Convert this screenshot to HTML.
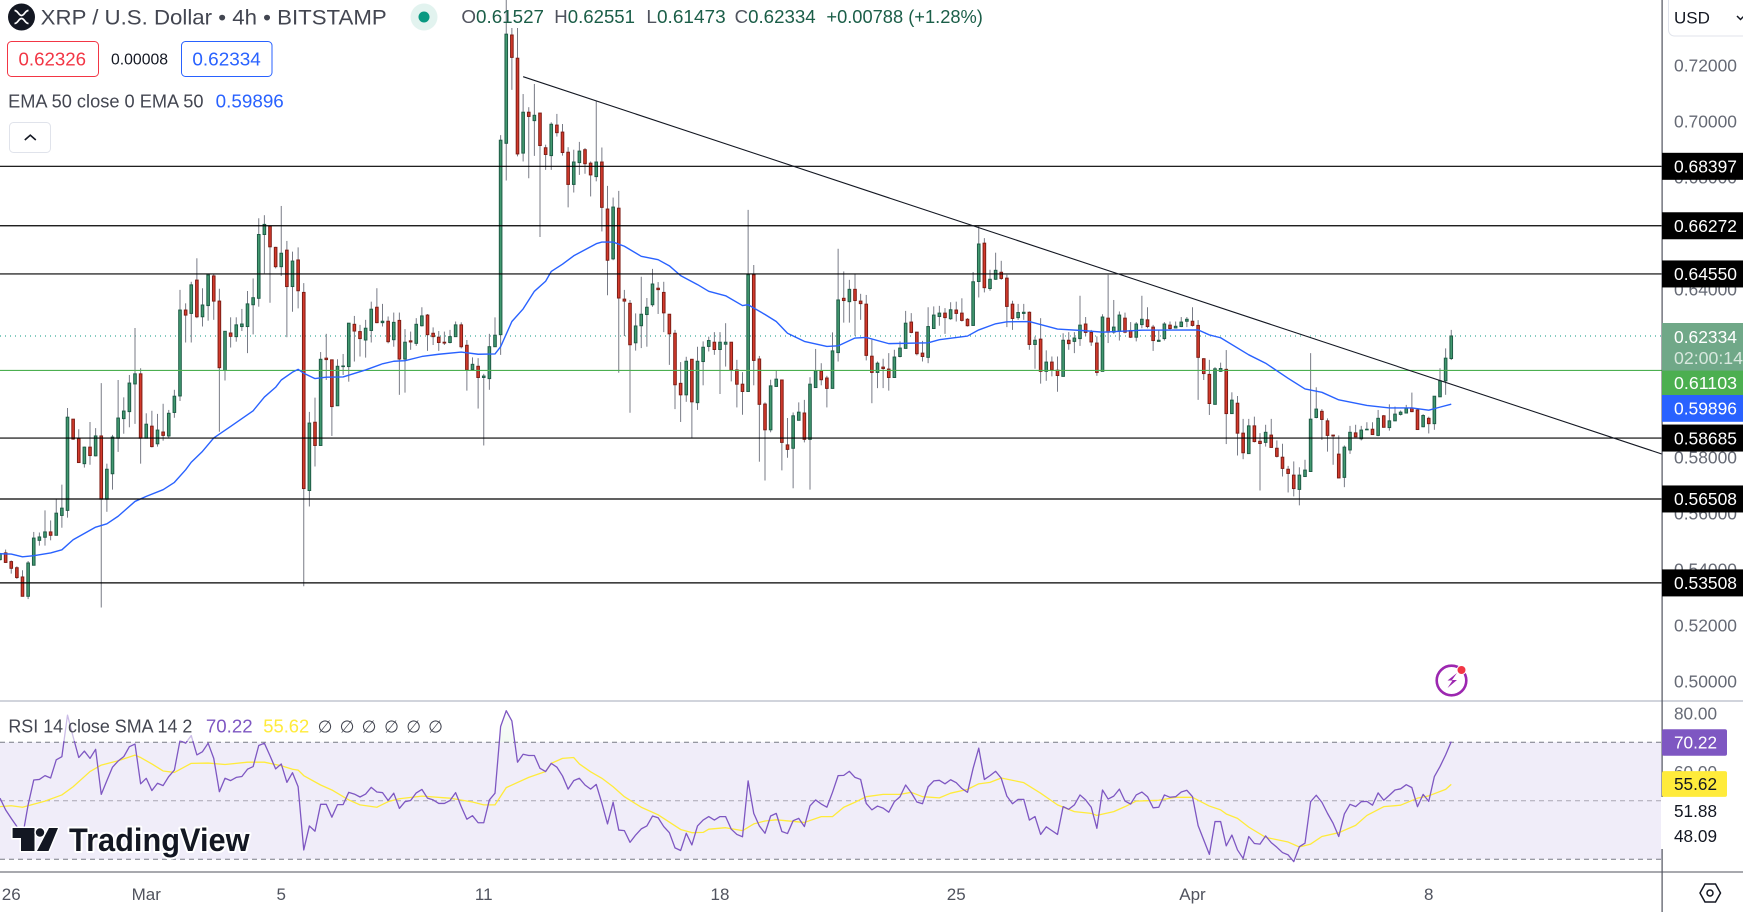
<!DOCTYPE html>
<html lang="en">
<head>
<meta charset="utf-8">
<title>XRP / U.S. Dollar 4h chart</title>
<style>
html,body{margin:0;padding:0;background:#fff;width:1743px;height:912px;overflow:hidden}
svg{display:block;font-family:"Liberation Sans",sans-serif}
</style>
</head>
<body>
<svg id="chart" xmlns="http://www.w3.org/2000/svg" width="1743" height="912" viewBox="0 0 1743 912">
  <defs>
    <clipPath id="mainClip"><rect x="0" y="0" width="1662" height="700"/></clipPath>
    <clipPath id="rsiClip"><rect x="0" y="702" width="1662" height="170"/></clipPath>
    <clipPath id="obClip"><rect x="0" y="702" width="1662" height="40.3"/></clipPath>
    <linearGradient id="obGrad" x1="0" y1="0" x2="0" y2="1"><stop offset="0" stop-color="#4caf50" stop-opacity=".02"/><stop offset="1" stop-color="#4caf50" stop-opacity=".28"/></linearGradient>
  </defs>
  <rect x="0" y="0" width="1743" height="912" fill="#ffffff"/>
  <g id="mainPane" clip-path="url(#mainClip)"></g>
  <rect x="0" y="742.3" width="1662" height="117" fill="#f0edf9"/>
  <g id="rsiPane" clip-path="url(#rsiClip)"></g>
  <rect x="0" y="700" width="1743" height="2" fill="#d1d4dc"/>
  <rect x="0" y="871.5" width="1743" height="1" fill="#50535e"/>
  <g id="priceTicks"></g>
  <rect x="1661.5" y="0" width="1.2" height="912" fill="#50535e"/>
  <g id="priceLabels"></g>
  <g id="timeLabels"></g>

  <!-- Header -->
  <g>
    <circle cx="21.5" cy="17" r="13.5" fill="#131722"/>
    <path d="M14.5 10.5c3.5 0 4 5 7 5s3.500-5 7-5M14.500 23.500c3.500 0 4-5 7-5s3.500 5 7 5" fill="none" stroke="#fff" stroke-width="1.700"/>
  </g>
  <text x="40.700" y="24.500" font-size="21" fill="#434651" textLength="346" lengthAdjust="spacingAndGlyphs">XRP / U.S. Dollar • 4h • BITSTAMP</text>
  <circle cx="424" cy="17" r="13.500" fill="#e2f3ef"/>
  <circle cx="424" cy="17" r="5.500" fill="#089981"/>
  <text x="461.400" y="23" font-size="18" fill="#1b5e48" textLength="82.600" lengthAdjust="spacingAndGlyphs"><tspan fill="#50535e">O</tspan>0.61527</text>
  <text x="554.300" y="23" font-size="18" fill="#1b5e48" textLength="80.700" lengthAdjust="spacingAndGlyphs"><tspan fill="#50535e">H</tspan>0.62551</text>
  <text x="646.400" y="23" font-size="18" fill="#1b5e48" textLength="79.300" lengthAdjust="spacingAndGlyphs"><tspan fill="#50535e">L</tspan>0.61473</text>
  <text x="734.600" y="23" font-size="18" fill="#1b5e48" textLength="81.100" lengthAdjust="spacingAndGlyphs"><tspan fill="#50535e">C</tspan>0.62334</text>
  <text x="826.400" y="23" font-size="18" fill="#1b5e48" textLength="156.500" lengthAdjust="spacingAndGlyphs">+0.00788 (+1.28%)</text>

  <rect x="7.500" y="41.500" width="91" height="35" rx="4" fill="#fff" stroke="#f23645" stroke-width="1"/>
  <text x="18.500" y="65.300" font-size="18.500" fill="#f23645" textLength="67.500" lengthAdjust="spacingAndGlyphs">0.62326</text>
  <text x="111" y="64.500" font-size="15.500" fill="#131722" textLength="57" lengthAdjust="spacingAndGlyphs">0.00008</text>
  <rect x="181.500" y="41.500" width="90.500" height="35" rx="4" fill="#fff" stroke="#2962ff" stroke-width="1"/>
  <text x="192.400" y="65.300" font-size="18.500" fill="#2962ff" textLength="68.400" lengthAdjust="spacingAndGlyphs">0.62334</text>

  <text x="8.100" y="107.500" font-size="18" fill="#434651" textLength="195.400" lengthAdjust="spacingAndGlyphs">EMA 50 close 0 EMA 50</text>
  <text x="215.700" y="107.500" font-size="18" fill="#2962ff" textLength="68.100" lengthAdjust="spacingAndGlyphs">0.59896</text>
  <rect x="9.500" y="122.500" width="41" height="30" rx="4" fill="#fff" stroke="#e0e3eb" stroke-width="1"/>
  <path d="M24.800 140l5.500-4.800 5.500 4.800" fill="none" stroke="#131722" stroke-width="1.600"/>

  <!-- USD -->
  <rect x="1668.500" y="-6" width="90" height="42" rx="6" fill="#fff" stroke="#e0e3eb" stroke-width="1"/>
  <text x="1674" y="23.500" font-size="17" fill="#131722">USD</text>
  <path d="M1737 16l3.500 3.500 3.500-3.500" fill="none" stroke="#131722" stroke-width="1.500"/>

  <!-- RSI legend -->
  <rect x="4" y="714" width="192" height="27" fill="#ffffff" fill-opacity=".6"/>
  <text x="8.400" y="732.500" font-size="18" fill="#434651" textLength="184" lengthAdjust="spacingAndGlyphs">RSI 14 close SMA 14 2</text>
  <text x="205.900" y="732.500" font-size="18" fill="#7e57c2" textLength="46.700" lengthAdjust="spacingAndGlyphs">70.22</text>
  <text x="263.300" y="732.500" font-size="18" fill="#ffeb3b" textLength="45.900" lengthAdjust="spacingAndGlyphs">55.62</text>
  <text font-size="17" fill="#434651" text-anchor="middle" y="732.500"><tspan x="325">∅</tspan><tspan x="347">∅</tspan><tspan x="369">∅</tspan><tspan x="391.500">∅</tspan><tspan x="413.700">∅</tspan><tspan x="435.500">∅</tspan></text>

  <!-- TradingView logo -->
  <g>
    <g fill="#131722" stroke="#fff" stroke-width="3" paint-order="stroke" stroke-linejoin="round">
      <path d="M12.600 828H34.500V851H21V838H12.600Z"/>
      <circle cx="40" cy="832.500" r="4.200"/>
      <path d="M49 828H58L48.500 851H37Z"/>
    </g>
    <text x="69" y="851" font-size="32" font-weight="700" fill="#131722" stroke="#fff" stroke-width="4" paint-order="stroke" stroke-linejoin="round" textLength="180.500" lengthAdjust="spacingAndGlyphs">TradingView</text>
  </g>

  <!-- Lightning icon -->
  <g>
    <circle cx="1451.500" cy="680.500" r="14.800" fill="#fff" stroke="#9c27b0" stroke-width="2.600"/>
    <path d="M1457 673l-9.500 7.500h5l-5 7.500 9.500-8h-5z" fill="#9c27b0"/>
    <circle cx="1461.500" cy="670" r="4.500" fill="#f23645" stroke="#fff" stroke-width="1"/>
  </g>

  <!-- settings -->
  <g fill="none" stroke="#131722" stroke-width="1.500">
    <path d="M1705 884h10.500l5 9-5 9H1705l-5-9z"/>
    <circle cx="1710" cy="893" r="3"/>
  </g>

  <g id="rsiLabels"></g>
</svg>

<script>
const opens=[.5434,.5458,.5427,.5405,.5372,.5303,.5414,.5503,.5514,.5533,
.5521,.5592,.5610,.5936,.5867,.5777,.5836,.5805,.5876,.5650,
.5741,.5868,.5938,.5963,.6062,.6098,.5868,.5911,.5848,.5890,
.5876,.5960,.6019,.6326,.6314,.6433,.6302,.6342,.6448,.6358,
.6110,.6244,.6231,.6267,.6267,.6345,.6368,.6596,.6626,.6550,
.6481,.6540,.6410,.6505,.6389,.5681,.5925,.5842,.6154,.6148,
.5984,.6124,.6124,.6275,.6249,.6219,.6253,.6336,.6281,.6286,
.6220,.6289,.6151,.6216,.6207,.6270,.6308,.6243,.6229,.6211,
.6210,.6231,.6273,.6200,.6113,.6125,.6085,.6081,.6195,.6238,
.6922,.7309,.7226,.6887,.7033,.7003,.7030,.6906,.6878,.6987,
.6962,.6890,.6775,.6853,.6899,.6851,.6803,.6855,.6687,.6509,
.6690,.6365,.6350,.6209,.6270,.6310,.6345,.6404,.6389,.6311,
.6243,.6064,.6023,.6150,.5995,.6142,.6196,.6211,.6185,.6204,
.6211,.6112,.6061,.6035,.6452,.6151,.5990,.5898,.6053,.6076,
.5844,.5832,.5932,.5958,.5864,.6049,.6108,.6083,.6046,.6174,
.6368,.6356,.6400,.6358,.6347,.6161,.6103,.6122,.6115,.6085,
.6160,.6189,.6283,.6247,.6172,.6157,.6260,.6303,.6315,.6295,
.6326,.6315,.6293,.6271,.6428,.6565,.6403,.6436,.6461,.6440,
.6347,.6299,.6314,.6318,.6203,.6222,.6107,.6140,.6111,.6089,
.6218,.6214,.6224,.6276,.6246,.6208,.6107,.6297,.6247,.6250,
.6297,.6253,.6229,.6274,.6291,.6265,.6214,.6224,.6272,.6262,
.6267,.6286,.6286,.6271,.6152,.6096,.5989,.6107,.6114,.5956,
.5993,.5886,.5813,.5912,.5857,.5853,.5879,.5832,.5800,.5757,
.5736,.5685,.5731,.5749,.5942,.5964,.5930,.5879,.5811,.5728,
.5826,.5887,.5866,.5898,.5900,.5878,.5948,.5906,.5930,.5953,
.5958,.5976,.5969,.5909,.5939,.5920,.6016,.6073,.61527];
const highs=[.5458,.5470,.5431,.5410,.5396,.5429,.5533,.5531,.5610,.5574,
.5652,.5702,.5976,.5936,.5900,.5838,.5926,.5904,.6065,.5777,
.5880,.6076,.6014,.6094,.6262,.6118,.5957,.5966,.5955,.5991,
.5969,.6041,.6398,.6350,.6427,.6511,.6404,.6451,.6454,.6402,
.6250,.6300,.6300,.6330,.6394,.6439,.6654,.6665,.6626,.6552,
.6698,.6573,.6535,.6550,.6422,.5962,.6013,.6176,.6241,.6148,
.6150,.6169,.6279,.6305,.6273,.6291,.6356,.6404,.6348,.6303,
.6317,.6317,.6258,.6249,.6297,.6336,.6312,.6264,.6251,.6249,
.6255,.6285,.6282,.6219,.6157,.6154,.6098,.6241,.6300,.6951,
.7450,.7334,.7334,.7098,.7051,.7134,.7030,.6917,.6997,.7027,
.6991,.6908,.6899,.6927,.6905,.6857,.7074,.6907,.6770,.6728,
.6752,.6398,.6362,.6314,.6445,.6369,.6473,.6426,.6427,.6312,
.6255,.6140,.6159,.6151,.6195,.6214,.6231,.6247,.6247,.6279,
.6211,.6148,.6104,.6684,.6487,.6162,.5996,.6077,.6110,.6076,
.5940,.5960,.5996,.6005,.6086,.6187,.6136,.6091,.6246,.6545,
.6464,.6434,.6454,.6384,.6380,.6220,.6142,.6152,.6172,.6184,
.6214,.6323,.6315,.6247,.6216,.6336,.6339,.6341,.6333,.6354,
.6356,.6368,.6297,.6462,.6628,.6583,.6470,.6531,.6502,.6452,
.6359,.6348,.6348,.6321,.6231,.6297,.6182,.6160,.6160,.6243,
.6247,.6247,.6377,.6301,.6255,.6232,.6311,.6452,.6362,.6321,
.6317,.6283,.6283,.6377,.6336,.6273,.6255,.6283,.6285,.6285,
.6301,.6301,.6336,.6290,.6154,.6148,.6122,.6138,.6183,.6032,
.6019,.5937,.5937,.5945,.5886,.5916,.5937,.5860,.5848,.5769,
.5785,.5764,.5791,.6172,.6050,.5972,.5939,.5880,.5878,.5842,
.5912,.5916,.5912,.5925,.5925,.5969,.5951,.5989,.5981,.5967,
.5987,.6031,.5975,.5954,.5945,.6018,.6118,.6189,.62551];
const lows=[.5431,.5422,.5384,.5365,.5303,.5293,.5414,.5484,.5484,.5503,
.5521,.5548,.5584,.5862,.5781,.5763,.5773,.5803,.5263,.5605,
.5684,.5819,.5884,.5907,.5919,.5777,.5868,.5835,.5838,.5859,
.5868,.5941,.6001,.6210,.6210,.6297,.6267,.6288,.6291,.5891,
.6074,.6192,.6213,.6251,.6172,.6239,.6338,.6457,.6352,.6475,
.6448,.6229,.6320,.6332,.5339,.5624,.5767,.5842,.6076,.5876,
.5984,.6094,.6070,.6142,.6160,.6156,.6210,.6279,.6267,.6207,
.6195,.6023,.6031,.6184,.6198,.6267,.6180,.6201,.6180,.6201,
.6207,.6231,.6189,.6038,.6110,.5974,.5842,.6041,.6195,.6166,
.6789,.7113,.6875,.6857,.6797,.6877,.6587,.6827,.6827,.6946,
.6878,.6693,.6746,.6809,.6813,.6732,.6786,.6607,.6379,.6504,
.6102,.6233,.5959,.6181,.6190,.6195,.6338,.6312,.6247,.6130,
.5972,.5926,.5998,.5867,.5969,.6057,.6178,.6166,.6026,.6124,
.6071,.5978,.5952,.6035,.6057,.5784,.5717,.5889,.6053,.5753,
.5798,.5689,.5932,.5853,.5684,.6049,.6057,.5978,.6046,.6142,
.6281,.6281,.6234,.6291,.6146,.5993,.6047,.6047,.6038,.6085,
.6157,.6189,.6243,.6164,.6142,.6136,.6260,.6270,.6241,.6291,
.6285,.6285,.6267,.6271,.6371,.6389,.6395,.6434,.6434,.6265,
.6255,.6291,.6291,.6184,.6116,.6063,.6073,.6089,.6034,.6089,
.6184,.6172,.6198,.6232,.6198,.6091,.6107,.6208,.6241,.6217,
.6243,.6226,.6214,.6261,.6261,.6180,.6214,.6217,.6255,.6261,
.6265,.6265,.6267,.6005,.6076,.5951,.5989,.6105,.5847,.5956,
.5806,.5793,.5813,.5853,.5681,.5838,.5835,.5799,.5731,.5674,
.5660,.5628,.5731,.5749,.5939,.5862,.5820,.5773,.5725,.5693,
.5812,.5872,.5860,.5898,.5880,.5875,.5906,.5895,.5930,.5949,
.5958,.5961,.5898,.5907,.5885,.5898,.6016,.6023,.61473];
const closes=[.5455,.5424,.5403,.5370,.5303,.5422,.5511,.5515,.5533,.5521,
.5600,.5618,.5943,.5865,.5781,.5836,.5806,.5876,.5650,.5757,
.5872,.5940,.5965,.6065,.6098,.5868,.5918,.5838,.5897,.5878,
.5957,.6018,.6326,.6308,.6416,.6302,.6344,.6451,.6358,.6120,
.6250,.6232,.6273,.6276,.6348,.6370,.6596,.6632,.6552,.6481,
.6529,.6410,.6501,.6395,.5688,.5922,.5842,.6150,.6149,.5981,
.6125,.6126,.6279,.6251,.6224,.6261,.6329,.6281,.6286,.6213,
.6282,.6151,.6211,.6212,.6275,.6305,.6238,.6231,.6210,.6208,
.6231,.6273,.6195,.6112,.6132,.6085,.6090,.6195,.6236,.6933,
.7312,.7229,.6884,.7033,.7018,.7022,.6914,.6882,.6990,.6960,
.6889,.6775,.6855,.6894,.6849,.6809,.6855,.6693,.6504,.6694,
.6369,.6358,.6202,.6269,.6311,.6336,.6419,.6399,.6316,.6241,
.6059,.6023,.6143,.5998,.6143,.6193,.6217,.6185,.6211,.6211,
.6112,.6061,.6035,.6452,.6146,.5989,.5898,.6055,.6079,.5853,
.5828,.5948,.5961,.5864,.6061,.6109,.6077,.6046,.6180,.6362,
.6360,.6400,.6360,.6349,.6164,.6103,.6136,.6117,.6085,.6158,
.6190,.6279,.6246,.6170,.6160,.6267,.6308,.6315,.6299,.6327,
.6314,.6289,.6270,.6427,.6562,.6406,.6436,.6468,.6439,.6339,
.6296,.6317,.6318,.6203,.6218,.6107,.6140,.6112,.6092,.6218,
.6206,.6226,.6272,.6246,.6212,.6103,.6301,.6247,.6265,.6308,
.6247,.6229,.6276,.6293,.6267,.6217,.6218,.6276,.6260,.6268,
.6283,.6293,.6271,.6157,.6099,.5992,.6116,.6117,.5956,.6004,
.5886,.5816,.5912,.5856,.5849,.5889,.5835,.5803,.5760,.5742,
.5688,.5736,.5754,.5936,.5972,.5935,.5878,.5876,.5726,.5836,
.5889,.5873,.5897,.5900,.5881,.5939,.5907,.5930,.5954,.5961,
.5975,.5963,.5899,.5949,.5920,.6018,.6073,.6154,.62334];

const emaBars=[0,2,4,6,9,11,13,17,19,21,24,26,29,31,33,34,36,38,41,45,47,49,50,52,53,54,56,58,61,65,68,70,72,75,78,82,85,88,89,91,93,95,97,98,100,102,106,107,109,111,114,117,119,121,124,126,129,132,133,136,138,140,143,147,149,152,154,158,165,167,172,174,177,179,183,188,193,196,203,213,215,217,222,225,229,232,235,238,243,247,251,254,256,258];
const emaValues=[.5455,.5454,.5444,.5448,.5458,.5469,.5505,.5550,.5562,.5589,.5642,.5660,.5684,.5710,.5755,.5782,.5821,.5869,.5910,.5966,.6015,.6050,.6076,.6104,.6114,.6100,.6081,.6086,.6087,.6112,.6134,.6143,.6145,.6160,.6168,.6176,.6168,.6169,.6195,.6285,.6330,.6393,.6429,.6464,.6490,.6520,.6563,.6569,.6569,.6554,.6518,.6506,.6484,.6449,.6417,.6393,.6377,.6342,.6345,.6310,.6285,.6243,.6214,.6196,.6198,.6226,.6228,.6206,.6209,.6220,.6233,.6255,.6277,.6284,.6285,.6258,.6252,.6247,.6254,.6255,.6237,.6227,.6166,.6136,.6082,.6044,.6032,.6005,.5985,.5976,.5976,.5968,.5979,.59896];

const rsiValues=[50.9,46.9,44.0,41.2,37.7,48.6,57.1,57.3,58.6,57.8,
64.0,65.1,79.3,71.9,64.8,67.0,64.5,67.6,52.2,56.9,
61.5,63.6,65.1,68.5,69.4,55.8,57.7,53.5,56.0,55.2,
58.3,60.5,70.6,69.7,72.3,65.7,66.8,69.7,64.5,53.1,
57.7,56.9,58.0,58.3,60.8,61.7,68.9,69.7,65.4,60.9,
62.6,56.3,59.6,54.8,33.2,41.4,39.6,48.8,48.8,44.4,
48.7,48.7,52.9,52.3,51.3,52.3,54.6,53.0,52.8,50.1,
52.6,47.4,49.7,50.1,52.7,53.9,50.9,50.3,49.1,49.1,
50.1,52.8,48.0,43.7,44.9,42.5,42.5,50.3,52.6,75.4,
80.8,77.3,63.2,65.9,65.5,65.5,61.1,60.0,62.8,61.5,
58.5,54.0,56.9,57.7,55.4,54.0,55.6,49.2,42.1,49.5,
40.0,39.8,35.8,38.3,40.4,41.4,44.8,44.2,41.2,39.1,
33.9,33.0,38.9,34.9,41.4,43.4,44.6,43.4,44.6,44.6,
40.3,38.5,37.7,56.8,45.7,41.4,38.9,44.8,45.7,39.5,
38.8,43.2,44.0,41.2,48.3,50.3,48.9,47.8,52.9,58.6,
58.7,60.1,58.0,57.3,49.1,46.9,48.2,47.5,46.1,49.7,
51.4,55.4,52.8,49.6,49.0,54.8,56.8,57.0,55.8,57.2,
56.2,54.2,52.9,61.1,68.0,57.3,58.6,60.1,57.7,51.6,
49.0,50.5,50.5,43.4,44.6,38.5,41.1,39.8,38.5,48.0,
47.1,48.6,52.0,50.3,47.8,40.6,53.7,50.6,51.6,54.0,
49.9,48.9,52.0,53.0,51.4,47.6,47.8,52.0,51.2,51.4,
53.0,53.6,51.4,41.5,36.6,31.7,42.9,42.9,34.6,38.3,
33.2,30.3,37.8,35.4,35.2,38.0,35.7,34.1,32.3,31.5,
29.2,34.3,35.5,49.7,51.9,49.5,45.7,42.3,37.8,45.5,
48.8,48.0,49.7,49.8,48.5,52.7,50.2,51.9,53.7,54.1,
55.5,54.5,48.0,52.2,49.8,58.3,61.7,65.7,70.22];
const smaBars=[0,2,4,8,11,13,16,18,21,24,25,27,29,31,34,37,40,44,47,50,52,53,54,57,59,62,64,67,69,71,75,80,84,86,88,90,94,97,98,100,102,103,105,107,109,111,114,117,121,123,125,126,129,132,134,136,138,143,146,148,150,152,154,157,160,162,164,167,169,172,174,176,178,182,185,188,191,194,195,198,200,202,206,209,212,215,217,218,220,222,225,229,231,233,235,238,241,243,246,249,252,254,257,258];
const smaValues=[48.0,48.3,47.8,49.9,52.0,54.8,60.0,62.2,63.7,65.6,64.8,62.6,60.2,59.7,62.8,62.9,62.4,63.2,63.2,62.0,60.8,60.5,58.6,55.4,53.7,50.3,48.6,47.8,49.7,50.7,51.6,50.9,49.6,48.6,48.6,54.5,58.0,60.0,62.8,64.5,64.8,62.6,59.9,57.7,54.8,51.4,47.8,45.2,40.2,39.1,39.2,40.3,40.8,39.8,42.1,43.1,43.5,42.6,44.6,44.6,47.8,49.5,51.4,52.2,52.2,52.9,51.4,51.0,52.6,53.9,55.8,56.3,57.8,56.2,52.6,48.6,46.3,45.7,45.0,46.3,48.0,49.9,50.2,51.2,51.2,48.2,46.9,45.5,44.0,41.0,37.5,35.9,34.2,35.2,37.8,39.1,41.6,45.0,48.0,48.5,50.9,51.7,53.9,55.62];

const levelValues=[.68397,.66272,.64550,.58685,.56508,.53508];
const lastPrice=.62334;
const greenLevel=.61103;
const emaLast=.59896;
const trendBars=[93,295.5];
const trendPrices=[.7160,.5811];
const priceTickValues=[.72,.70,.68,.64,.58,.56,.54,.52,.50];
const rsiGuideValues=[70,50,30];
const rsiTickValues=[80,60];
const timeTickBars=[2,26,50,86,128,170,212,254];
const timeTickLabels=['26','Mar','5','11','18','25','Apr','8'];
const countdownLabel='02:00:14';
const rsiSmaLast=55.62;
const rsiLast=70.22;
const rsiExtraLabels=[51.88,48.09];

const SVGNS='http://www.w3.org/2000/svg';
const barStep=5.625;
function xOf(bar){return bar*barStep;}
function priceY(p){return 65.5+(0.72-p)*2798;}
function rsiY(v){return 742.3+(70-v)*2.925;}
function el(tag,attrs,parent){
  const n=document.createElementNS(SVGNS,tag);
  for(const k in attrs)n.setAttribute(k,attrs[k]);
  parent.appendChild(n);
  return n;
}
const main=document.getElementById('mainPane');
const rsi=document.getElementById('rsiPane');
const ticks=document.getElementById('priceTicks');
const labels=document.getElementById('priceLabels');
const rsiL=document.getElementById('rsiLabels');
const timeL=document.getElementById('timeLabels');

// last-price dotted line
const dotted=el('line',{x1:0,x2:1662,y1:priceY(lastPrice),y2:priceY(lastPrice),stroke:'#089981','stroke-width':1,'stroke-dasharray':'1 4'},main);



// candles
opens.forEach(function(o,i){
  const c=closes[i],up=c>=o,x=xOf(i);
  const g=el('g',{},main);
  
  
  const wick=el('line',{x1:x,x2:x,y1:priceY(highs[i]),y2:priceY(lows[i]),stroke:'#787b86','stroke-width':1},g);
  
  
  const top=priceY(Math.max(o,c)),bot=priceY(Math.min(o,c));
  const body=el('rect',{x:x-1.3,y:top,width:2.6,height:Math.max(bot-top,.6),fill:up?'#429970':'#d33a2c',stroke:up?'#1e5c46':'#7f1d15','stroke-width':1},g);
  
  
});

// green level
const gl=el('line',{x1:0,x2:1662,y1:priceY(greenLevel),y2:priceY(greenLevel),stroke:'#4caf50','stroke-width':1.1},main);



// EMA
const emaLine=el('polyline',{points:emaBars.map(function(b,i){return xOf(b)+','+priceY(emaValues[i]);}).join(' '),fill:'none',stroke:'#2962ff','stroke-width':1.4,'stroke-linejoin':'round'},main);



// horizontal levels
levelValues.forEach(function(v){
  const l=el('line',{x1:0,x2:1662,y1:priceY(v),y2:priceY(v),stroke:'#000','stroke-width':1.2},main);
  
  
});

// trend line
const tl=el('line',{x1:xOf(trendBars[0]),y1:priceY(trendPrices[0]),x2:xOf(trendBars[1]),y2:priceY(trendPrices[1]),stroke:'#131722','stroke-width':1.1},main);



// RSI guides
rsiGuideValues.forEach(function(v){
  const g=el('line',{x1:0,x2:1662,y1:rsiY(v),y2:rsiY(v),stroke:v===50?'#a9a6b3':'#787b86','stroke-width':1,'stroke-dasharray':'5 4'},rsi);
  
  
});
const rsiPts=rsiValues.map(function(v,i){return xOf(i)+','+rsiY(v);}).join(' ');
const ob=el('polygon',{points:'0,'+rsiY(70)+' '+rsiPts+' '+xOf(rsiValues.length-1)+','+rsiY(70),fill:'url(#obGrad)','clip-path':'url(#obClip)'},rsi);


const smaLine=el('polyline',{points:smaBars.map(function(b,i){return xOf(b)+','+rsiY(smaValues[i]);}).join(' '),fill:'none',stroke:'#ffeb3b','stroke-width':1.3,'stroke-linejoin':'round'},rsi);


const rsiLine=el('polyline',{points:rsiPts,fill:'none',stroke:'#7e57c2','stroke-width':1.3,'stroke-linejoin':'round'},rsi);



// price ticks
priceTickValues.forEach(function(v){
  const t=el('text',{x:1674,y:priceY(v)+6.2,'font-size':17.5,fill:'#666a75',textLength:63,lengthAdjust:'spacingAndGlyphs'},ticks);
  t.textContent=v.toFixed(5);
  
  
});

// axis label boxes
function axisBox(group,y,h,w,fill,txt,color,radius){
  const r=el('rect',{x:1662,y:y-h/2,width:w,height:h,fill:fill,rx:radius||0},group);
  
  
  const t=el('text',{x:1674,y:y+6.2,'font-size':17.5,fill:color,textLength:txt.length>5?63:43,lengthAdjust:'spacingAndGlyphs'},group);
  t.textContent=txt;
  
  
}
levelValues.forEach(function(v){
  axisBox(labels,priceY(v),27,81,'#000000',v.toFixed(5),'#ffffff');
});
const lastBox=el('rect',{x:1662,y:323,width:81,height:48,fill:'#70a888'},labels);


const lastTxt=el('text',{x:1674,y:priceY(lastPrice)+7,'font-size':17.5,fill:'#ffffff',textLength:63,lengthAdjust:'spacingAndGlyphs'},labels);
lastTxt.textContent=lastPrice.toFixed(5);


const cd=el('text',{x:1674,y:364,'font-size':17.5,fill:'#d8e8de',textLength:69,lengthAdjust:'spacingAndGlyphs'},labels);
cd.textContent=countdownLabel;


axisBox(labels,382.8,24.4,81,'#4caf50',greenLevel.toFixed(5),'#ffffff');
axisBox(labels,408.4,26.8,81,'#2962ff',emaLast.toFixed(5),'#ffffff');

// RSI axis
rsiTickValues.forEach(function(v){
  const t=el('text',{x:1674,y:rsiY(v)+6.2,'font-size':17.5,fill:'#666a75',textLength:43,lengthAdjust:'spacingAndGlyphs'},rsiL);
  t.textContent=v.toFixed(2);
  
  
});
const rsiMask=el('rect',{x:1661,y:797,width:66,height:52,fill:'#ffffff'},rsiL);


axisBox(rsiL,742.5,26.4,65,'#7e57c2',rsiLast.toFixed(2),'#ffffff',2);
axisBox(rsiL,784,25.7,65,'#ffeb3b',rsiSmaLast.toFixed(2),'#131722',2);
rsiExtraLabels.forEach(function(v,i){
  const t=el('text',{x:1674,y:(i===0?810.7:835.7)+6.2,'font-size':17.5,fill:'#131722',textLength:43,lengthAdjust:'spacingAndGlyphs'},rsiL);
  t.textContent=v.toFixed(2);
  
  
});

// time axis
timeTickBars.forEach(function(b,i){
  const t=el('text',{x:xOf(b),y:900,'font-size':17,fill:'#50535e','text-anchor':'middle'},timeL);
  t.textContent=timeTickLabels[i];
  
  
});
</script>
</body>
</html>
